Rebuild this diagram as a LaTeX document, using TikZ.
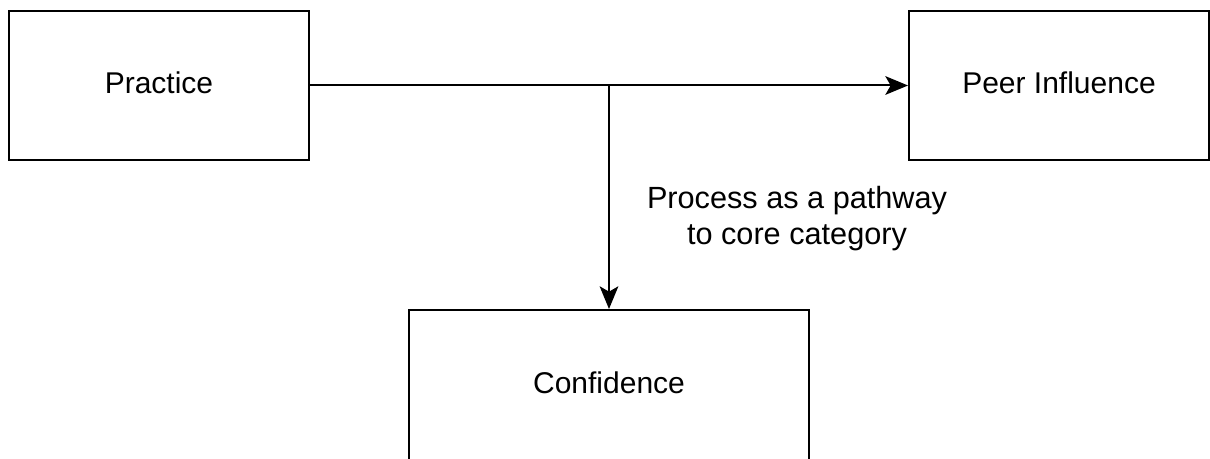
\documentclass[tikz,border=0pt]{standalone}
\usepackage{fontspec}
\setmainfont{Liberation Sans}
\usetikzlibrary{arrows.meta}
\begin{document}
\begin{tikzpicture}[x=0.75pt,y=-0.75pt,
  box/.style={draw=black, line width=1.5pt, fill=white, minimum width=225pt,
    minimum height=111.75pt, inner sep=0pt, text depth=4.5pt,
    font=\fontsize{22.5}{26}\selectfont},
  link/.style={line width=1.5pt, -{Stealth[length=17pt,width=14pt,inset=4pt]}},
  note/.style={align=center, font=\fontsize{23}{27}\selectfont, inner sep=0pt}]
  \useasboundingbox (0,0) rectangle (1210,459);
  \clip (0,0) rectangle (1210,459);
  % three category boxes
  \node[box] (practice) at (159,85.5) {Practice};
  \node[box] (peer) at (1059,85.5) {Peer Influence};
  \node[box, minimum width=300pt, minimum height=114pt] (conf) at (609,386) {Confidence};
  % main flow and branch to the core category
  \coordinate (junction) at (practice.east -| conf.north);
  \draw[link] (practice.east) -- (peer.west);
  \draw[link] (junction) -- (conf.north);
  \node[note, anchor=base] (pathway) at (797,245) {Process as a pathway\\to core category};
\end{tikzpicture}
\end{document}
